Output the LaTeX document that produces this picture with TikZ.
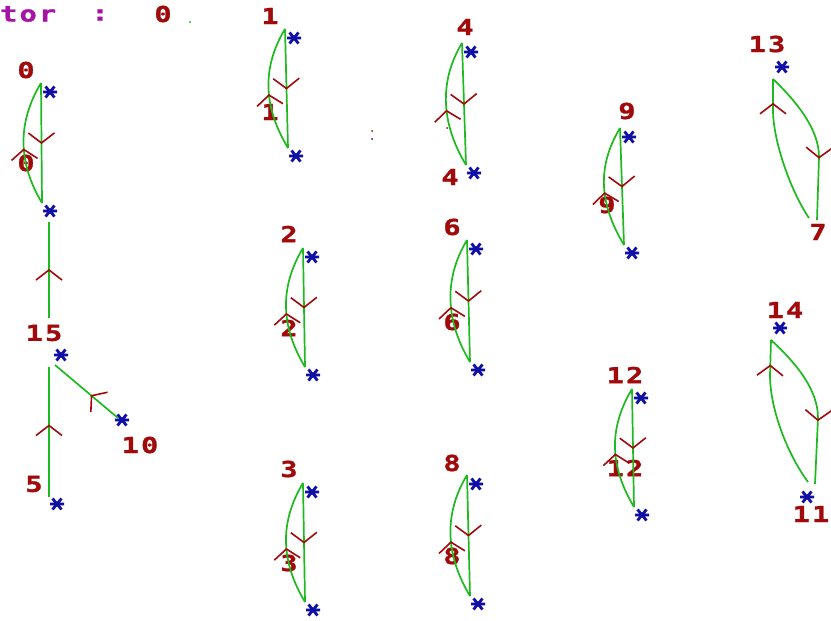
\documentclass[tikz,border=0pt]{standalone}
\usepackage{fontspec}
\newfontfamily\lblfont{DejaVu Sans Mono}[FakeStretch=1.3,LetterSpace=10,FakeBold=1.2]
\usetikzlibrary{calc,decorations.markings}

\definecolor{edgegreen}{RGB}{30,185,30}
\definecolor{lblred}{RGB}{160,10,10}
\definecolor{vtxblue}{RGB}{15,15,165}
\definecolor{hdrpurple}{RGB}{165,20,165}

\def\ChevL{10}
\def\ChevW{13}
\tikzset{
  edge/.style={edgegreen, line width=1.7pt},
  chev/.style={lblred, line width=1.6pt},
  ArrowAt/.style={
    postaction={decorate,
      decoration={
        markings,
        mark=at position #1 with
          {
              \draw[chev] (-\ChevL,-\ChevW) -- (0,0) -- (-\ChevL,\ChevW) ;
          }
       }
    }
  },
  ArrowAt/.default={0.5},
  lbl/.style={lblred, inner sep=0pt,
    font=\lblfont\bfseries\fontsize{22}{22}\selectfont},
  vtx/.style={inner sep=0pt, minimum width=17pt, minimum height=15pt,
    path picture={
      \draw[vtxblue, line width=2.8pt]
        ([xshift=-7pt]path picture bounding box.center) -- ([xshift=7pt]path picture bounding box.center)
        ([shift={(-4.5pt,-5.5pt)}]path picture bounding box.center) -- ([shift={(4.5pt,5.5pt)}]path picture bounding box.center)
        ([shift={(-4.5pt,5.5pt)}]path picture bounding box.center) -- ([shift={(4.5pt,-5.5pt)}]path picture bounding box.center);
    }}
}

\begin{document}
\begin{tikzpicture}[x=1pt,y=-1pt]
        \useasboundingbox (0,0) rectangle (831,621);

        % Header
        \node[lbl, hdrpurple, anchor=west] (hdr) at (0,14) {tor};
        \node[lbl, hdrpurple] (hdrc) at (100,15) {:};
        \node[lbl] (hdrv) at (163,14) {0};
        \fill[edgegreen] (190,22) circle (1.2);
        \fill[lblred] (372,131) circle (1);
        \fill[vtxblue] (372,139) circle (1);
        \fill[lblred] (447,128) circle (1);

        %-----------------------------------------------
        % two-edge loops
        \foreach \n/\xt/\yt/\xb/\yb/\xu/\yu/\xv/\yv in {
            0/41/83/42/203/26/70/26/163,
            1/285/29/288/148/270/16/270/112,
            2/303/248/305/367/289/234/289/328,
            3/303/483/305/602/289/469/289/563,
            4/462/43/466/165/465/27/450/177,
            6/467/240/470/362/452/227/452/322,
            8/467/475/470/596/452/463/452/556,
            9/620/128/624/245/627/111/607/205,
            12/632/389/634/507/625/375/625/468}
        {
            \coordinate (t\n) at (\xt,\yt);
            \coordinate (b\n) at (\xb,\yb);
            \node[vtx] (vt\n) at ([shift={(9,9)}]t\n) {};
            \node[vtx] (vb\n) at ([shift={(8,8)}]b\n) {};
            \node[lbl] (lt\n) at (\xu,\yu) {\n};
            \node[lbl] (lb\n) at (\xv,\yv) {\n};
            \draw[edge, ArrowAt=0.5] (t\n) -- (b\n);
            \draw[edge, ArrowAt=0.45] (b\n) .. controls +(-24,-40) and +(-24,40) .. (t\n);
        }

        %-----------------------------------------------
        % 13 -> 7
        \coordinate (t13) at (773,79);
        \coordinate (b13) at (817,220);
        \coordinate (c13) at (809,218);
        \node[vtx] (vt13) at (782,67) {};
        \node[lbl] (lt13) at (767,44) {13};
        \node[lbl] (lb13) at (818,232) {7};
        \draw[edge, ArrowAt=0.6] (t13) .. controls (798,103) and (819,130) .. (819,157) -- (b13);
        \draw[edge, ArrowAt=0.83] (c13) .. controls (790,190) and (773,140) .. (773,110) -- (t13);

        %-----------------------------------------------
        % 14 -> 11
        \coordinate (t14) at (771,340);
        \coordinate (b14) at (815,484);
        \coordinate (c14) at (808,482);
        \node[vtx] (vt14) at (780,328) {};
        \node[vtx] (vb14) at (807,497) {};
        \node[lbl] (lt14) at (785,310) {14};
        \node[lbl] (lb14) at (811,514) {11};
        \draw[edge, ArrowAt=0.6] (t14) .. controls (797,364) and (818,390) .. (818,418) -- (b14);
        \draw[edge, ArrowAt=0.83] (c14) .. controls (788,455) and (770,410) .. (770,375) -- (t14);

        %-----------------------------------------------
        % tree 5, 10 -> 15 -> 0
        \node[vtx] (v15) at (61,355) {};
        \node[vtx] (v5) at (57,504) {};
        \node[vtx] (v10) at (122,420) {};
        \node[lbl] (l15) at (44,333) {15};
        \node[lbl] (l5) at (34,484) {5};
        \node[lbl] (l10) at (140,445) {10};
        \coordinate (u15) at (49,318);
        \coordinate (d0) at (49,222);
        \coordinate (p15) at (49,367);
        \coordinate (q15) at (55,365);
        \coordinate (p5) at (49,497);
        \coordinate (p10) at (118,418);
        \draw[edge, ArrowAt=0.5] (u15) -- (d0);
        \draw[edge, ArrowAt=0.55] (p5) -- (p15);
        \draw[edge, ArrowAt=0.42] (p10) -- (q15);

\end{tikzpicture}
\end{document}
